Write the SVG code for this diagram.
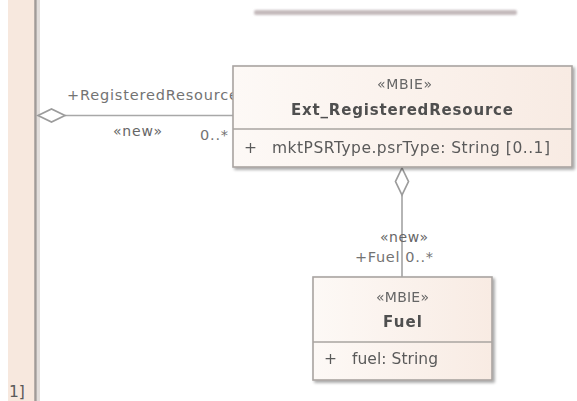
<svg xmlns="http://www.w3.org/2000/svg" width="577" height="401" viewBox="0 0 577 401">
<defs>
<linearGradient id="cls" x1="0" y1="0" x2="1" y2="0">
<stop offset="0" stop-color="#fdf9f6"/>
<stop offset="1" stop-color="#f8ebe3"/>
</linearGradient>
<filter id="sh" x="-5%" y="-5%" width="115%" height="120%">
<feGaussianBlur in="SourceAlpha" stdDeviation="1.5"/>
<feOffset dx="2" dy="2" result="b"/>
<feComponentTransfer><feFuncA type="linear" slope="0.35"/></feComponentTransfer>
<feMerge><feMergeNode/><feMergeNode in="SourceGraphic"/></feMerge>
</filter>
<filter id="blur" x="-5%" y="-100%" width="110%" height="300%">
<feGaussianBlur stdDeviation="1"/>
</filter>
</defs>
<style>
.box{fill:url(#cls);stroke:#a9a4a1;stroke-width:1.6}
.div{stroke:#a9a4a1;stroke-width:1.6}
.t{font-family:"DejaVu Sans",Verdana,sans-serif;fill:#5a5a5a;font-size:15.5px}
.st{font-family:"DejaVu Sans",Verdana,sans-serif;fill:#666;font-size:14px}
.nm{font-family:"DejaVu Sans",Verdana,sans-serif;fill:#505050;font-size:15px;font-weight:bold}
.lb{font-family:"DejaVu Sans",Verdana,sans-serif;fill:#737373;font-size:14.5px}
.ln{stroke:#a8a8a8;stroke-width:1.7;fill:none}
.dm{fill:#fff;stroke:#9c9c9c;stroke-width:1.7}
</style>
<rect width="577" height="401" fill="#fff"/>

<g id="left-class">
<rect x="8" y="-10" width="27" height="420" fill="#f7e8de"/>
<rect x="37" y="-10" width="3" height="420" fill="#e2dedc"/>
<line x1="35.5" y1="-10" x2="35.5" y2="410" stroke="#a19b98" stroke-width="2.5"/>
<text class="t" x="9" y="397" fill="#4a4a4a">1]</text>
</g>

<g id="top-class">
<rect x="254" y="10" width="263" height="5" rx="2" fill="#c4babc" filter="url(#blur)"/>
</g>

<g id="connectors">
<line class="ln" x1="65" y1="115.5" x2="233" y2="115.5"/>
<polygon class="dm" points="38,115.5 51.5,109 65,115.5 51.5,122"/>
<text class="lb" x="67" y="100" textLength="171" lengthAdjust="spacing">+RegisteredResource</text>
<text class="st" x="113" y="136" fill="#808080" textLength="49" lengthAdjust="spacing">«new»</text>
<text class="lb" x="200" y="140" textLength="28" lengthAdjust="spacing">0..*</text>

<line class="ln" x1="402" y1="195" x2="402" y2="277"/>
<polygon class="dm" points="402,168 408.5,181.5 402,195 395.5,181.5"/>
<text class="st" x="380" y="242" fill="#808080" textLength="48" lengthAdjust="spacing">«new»</text>
<text class="lb" x="355" y="262" textLength="78" lengthAdjust="spacing">+Fuel 0..*</text>
</g>

<g id="Ext_RegisteredResource" filter="url(#sh)">
<rect class="box" x="233" y="66" width="339" height="101"/>
<line class="div" x1="233" y1="129" x2="572" y2="129"/>
<text class="st" x="377" y="89" textLength="55" lengthAdjust="spacing">«MBIE»</text>
<text class="nm" x="291" y="115" textLength="222" lengthAdjust="spacing">Ext_RegisteredResource</text>
<text class="t" x="244" y="153">+</text>
<text class="t" x="272" y="153" textLength="278" lengthAdjust="spacing">mktPSRType.psrType: String [0..1]</text>
</g>

<g id="Fuel" filter="url(#sh)">
<rect class="box" x="313" y="277" width="179" height="103"/>
<line class="div" x1="313" y1="342" x2="492" y2="342"/>
<text class="st" x="376" y="302" textLength="53" lengthAdjust="spacing">«MBIE»</text>
<text class="nm" x="383" y="327" textLength="39" lengthAdjust="spacing">Fuel</text>
<text class="t" x="324" y="364">+</text>
<text class="t" x="352" y="364" textLength="86" lengthAdjust="spacing">fuel: String</text>
</g>
</svg>
